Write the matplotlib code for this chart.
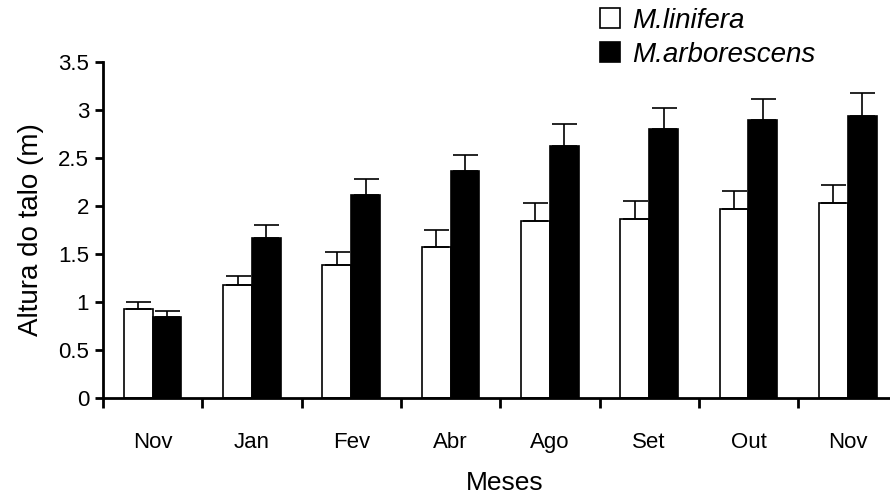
import numpy as np
import matplotlib.pyplot as plt

plt.rcParams['font.family'] = ['Liberation Sans', 'DejaVu Sans']

meses = ['Nov', 'Jan', 'Fev', 'Abr', 'Ago', 'Set', 'Out', 'Nov']
linifera = [0.93, 1.18, 1.39, 1.57, 1.84, 1.86, 1.97, 2.03]
linifera_sup = [1.00, 1.27, 1.52, 1.75, 2.03, 2.05, 2.16, 2.22]
arborescens = [0.85, 1.67, 2.11, 2.36, 2.62, 2.80, 2.89, 2.94]
arborescens_sup = [0.91, 1.80, 2.28, 2.53, 2.85, 3.02, 3.11, 3.17]

x = np.arange(len(meses))
w = 0.29
err_lin = np.array(linifera_sup) - np.array(linifera)
err_arb = np.array(arborescens_sup) - np.array(arborescens)

fig = plt.figure(figsize=(8.9, 4.98), dpi=100)
ax = fig.add_axes([0.1157, 0.2002, 0.8843, 0.6759])

ax.bar(x - w / 2, linifera, w, color='white', edgecolor='black', linewidth=1.2,
       yerr=[np.zeros(len(x)), err_lin], capsize=9,
       error_kw=dict(elinewidth=1.2, capthick=1.2, ecolor='black'),
       label='M.linifera')
ax.bar(x + w / 2, arborescens, w, color='black', edgecolor='black', linewidth=1.2,
       yerr=[np.zeros(len(x)), err_arb], capsize=9,
       error_kw=dict(elinewidth=1.2, capthick=1.2, ecolor='black'),
       label='M.arborescens')

ax.set_xlim(-0.5, 7.425)
ax.set_ylim(0, 3.5)
ax.set_yticks(np.arange(0, 3.51, 0.5))
ax.set_yticklabels(['0', '0.5', '1', '1.5', '2', '2.5', '3', '3.5'])

# ticks between the groups, labels in the middle
ax.set_xticks(np.arange(-0.5, 7.5, 1))
ax.set_xticklabels([])
ax.set_xticks(x, minor=True)
ax.set_xticklabels(meses, minor=True)
ax.tick_params(axis='x', which='minor', length=0, pad=24, labelsize=16)
ax.tick_params(axis='x', which='major', direction='out', length=7, width=2)
ax.tick_params(axis='y', direction='out', length=6, width=2, labelsize=16, pad=4)

for s in ['top', 'right']:
    ax.spines[s].set_visible(False)
for s in ['left', 'bottom']:
    ax.spines[s].set_linewidth(2)

ax.set_ylabel('Altura do talo (m)', fontsize=20)
ax.set_xlabel('Meses', fontsize=19)
ax.xaxis.set_label_coords(0.51, -0.215)
ax.yaxis.set_label_coords(-0.075, 0.5)

fig.legend(loc='upper left', bbox_to_anchor=(0.646, 1.035), frameon=False,
           prop={'style': 'italic', 'size': 20}, handlelength=0.72,
           handleheight=0.72, handletextpad=0.45, labelspacing=0.3)

fig.savefig('out.png', dpi=100)
